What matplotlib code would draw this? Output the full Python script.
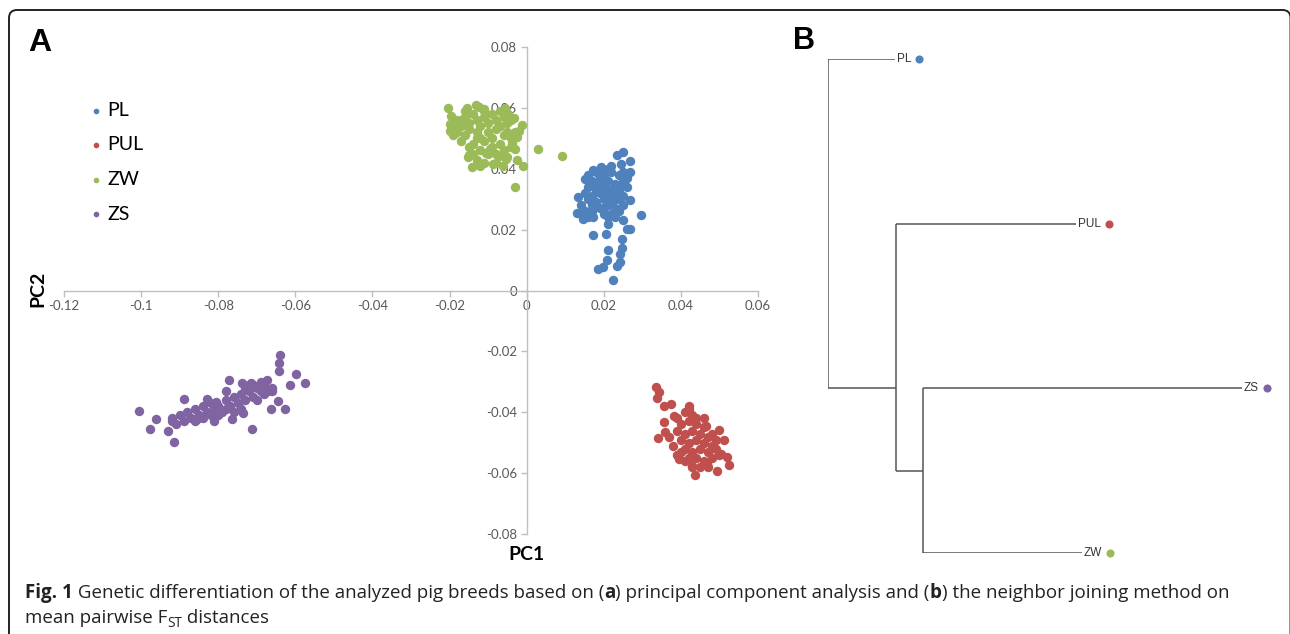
import numpy as np
import matplotlib
matplotlib.use('Agg')
import matplotlib.pyplot as plt
from matplotlib.patches import FancyBboxPatch
from matplotlib.transforms import IdentityTransform

# PCA scores (PC1, PC2)
pl_pc1 = [0.0251, 0.0234, 0.0245, 0.0269, 0.0269, 0.0193, 0.0212, 0.0171, 0.0152, 0.0133,
          0.0130, 0.0147, 0.0173, 0.0269, 0.0297, 0.0251, 0.0212, 0.0260, 0.0269, 0.0171,
          0.0206, 0.0247, 0.0247, 0.0210, 0.0243, 0.0208, 0.0243, 0.0234, 0.0199, 0.0186,
          0.0225,
          0.016, 0.018, 0.020, 0.022, 0.024, 0.017, 0.019, 0.021, 0.023, 0.025,
          0.016, 0.018, 0.020, 0.022, 0.024, 0.026, 0.015, 0.017, 0.019, 0.021,
          0.023, 0.025, 0.016, 0.018, 0.020, 0.022, 0.024, 0.017, 0.019, 0.021,
          0.023, 0.025, 0.015, 0.017, 0.020, 0.022, 0.024, 0.014, 0.016, 0.021,
          0.023, 0.019, 0.021, 0.023, 0.018, 0.020, 0.024, 0.026, 0.014, 0.022,
          0.019, 0.025]
pl_pc2 = [0.0455, 0.0444, 0.0417, 0.0425, 0.0389, 0.0406, 0.0400, 0.0395, 0.0367, 0.0307,
          0.0254, 0.0236, 0.0241, 0.0296, 0.0247, 0.0230, 0.0219, 0.0203, 0.0203, 0.0183,
          0.0186, 0.0170, 0.0140, 0.0132, 0.0121, 0.0099, 0.0093, 0.0082, 0.0077, 0.0071,
          0.0033,
          0.038, 0.039, 0.038, 0.039, 0.038, 0.036, 0.035, 0.036, 0.035, 0.036,
          0.034, 0.033, 0.034, 0.033, 0.034, 0.034, 0.032, 0.031, 0.032, 0.031,
          0.032, 0.031, 0.030, 0.029, 0.030, 0.029, 0.030, 0.028, 0.027, 0.028,
          0.027, 0.028, 0.026, 0.026, 0.025, 0.025, 0.026, 0.025, 0.024, 0.024,
          0.024, 0.037, 0.033, 0.030, 0.035, 0.027, 0.033, 0.037, 0.028, 0.041,
          0.040, 0.039]

pul_pc1 = [0.0335, 0.0342, 0.0338, 0.0355, 0.0375, 0.0420, 0.0355, 0.0360, 0.0341, 0.0500,
           0.0511, 0.0520, 0.0524, 0.0494, 0.0436, 0.0381, 0.0464, 0.0394, 0.0429, 0.0468,
           0.0503,
           0.039, 0.041, 0.043, 0.040, 0.042, 0.044, 0.046, 0.039, 0.041, 0.043,
           0.045, 0.047, 0.040, 0.042, 0.044, 0.046, 0.048, 0.041, 0.043, 0.045,
           0.047, 0.049, 0.042, 0.044, 0.046, 0.048, 0.038, 0.040, 0.045, 0.043,
           0.047, 0.050, 0.044, 0.042, 0.037, 0.046, 0.048, 0.049, 0.041, 0.039]
pul_pc2 = [-0.0318, -0.0335, -0.0354, -0.0378, -0.0373, -0.0378, -0.0431, -0.0466, -0.0483, -0.0457,
           -0.0490, -0.0548, -0.0573, -0.0592, -0.0606, -0.0411, -0.0444, -0.0554, -0.0576, -0.0570,
           -0.0537,
           -0.042, -0.040, -0.041, -0.044, -0.043, -0.044, -0.045, -0.046, -0.047, -0.046,
           -0.047, -0.048, -0.049, -0.050, -0.049, -0.050, -0.051, -0.052, -0.053, -0.052,
           -0.053, -0.052, -0.055, -0.055, -0.056, -0.055, -0.051, -0.053, -0.058, -0.058,
           -0.058, -0.054, -0.042, -0.039, -0.048, -0.042, -0.047, -0.049, -0.056, -0.054]

zw_pc1 = [-0.0205, -0.0195, -0.0199, -0.0198, -0.0191, -0.0165, -0.0156, -0.0132, -0.0123, -0.0111,
          -0.0056, -0.0048, -0.0033, -0.0013, -0.0019, -0.0026, -0.0039, -0.0030, -0.0054, -0.0071,
          -0.0095, -0.0106, -0.0149, -0.0153, -0.0141, -0.0120, -0.0087, -0.0062, -0.0024, -0.0010,
          0.0030, 0.0091, -0.0029,
          -0.018, -0.017, -0.016, -0.015, -0.014, -0.013, -0.012, -0.011, -0.010, -0.009,
          -0.008, -0.007, -0.006, -0.005, -0.018, -0.016, -0.015, -0.013, -0.012, -0.010,
          -0.009, -0.008, -0.006, -0.005, -0.004, -0.017, -0.014, -0.013, -0.011, -0.009,
          -0.007, -0.006, -0.004, -0.012, -0.010, -0.008, -0.014, -0.011, -0.007, -0.016,
          -0.003, -0.004, -0.019, -0.013, -0.011, -0.008, -0.005, -0.015]
zw_pc2 = [0.0598, 0.0573, 0.0548, 0.0523, 0.0510, 0.0565, 0.0598, 0.0611, 0.0603, 0.0595,
          0.0598, 0.0581, 0.0567, 0.0543, 0.0523, 0.0504, 0.0486, 0.0464, 0.0433, 0.0442,
          0.0466, 0.0453, 0.0446, 0.0438, 0.0406, 0.0408, 0.0414, 0.0409, 0.0428, 0.0409,
          0.0464, 0.0441, 0.0340,
          0.056, 0.054, 0.057, 0.055, 0.058, 0.056, 0.054, 0.057, 0.055, 0.058,
          0.056, 0.054, 0.057, 0.055, 0.052, 0.051, 0.053, 0.052, 0.050, 0.052,
          0.050, 0.053, 0.051, 0.052, 0.050, 0.049, 0.048, 0.050, 0.049, 0.047,
          0.048, 0.046, 0.047, 0.046, 0.045, 0.045, 0.045, 0.059, 0.059, 0.059,
          0.052, 0.056, 0.054, 0.043, 0.042, 0.042, 0.044, 0.047]

zs_pc1 = [-0.0640, -0.0643, -0.0643, -0.0598, -0.0576, -0.0615, -0.0673, -0.0660, -0.0646, -0.0628,
          -0.0663, -0.0712, -0.0773, -0.0738, -0.0715, -0.0693, -0.0737, -0.0764, -0.0780, -0.1005,
          -0.0962, -0.0978, -0.0929, -0.0914, -0.0888, -0.0828, -0.0806, -0.0810, -0.0854, -0.0919,
          -0.090, -0.089, -0.088, -0.087, -0.086, -0.085, -0.084, -0.083, -0.082, -0.082,
          -0.081, -0.080, -0.079, -0.078, -0.077, -0.076, -0.076, -0.075, -0.074, -0.073,
          -0.072, -0.072, -0.071, -0.070, -0.069, -0.068, -0.068, -0.067, -0.070, -0.066,
          -0.091, -0.092, -0.086, -0.084, -0.080, -0.078, -0.074, -0.073, -0.071, -0.069]
zs_pc2 = [-0.0211, -0.0239, -0.0263, -0.0274, -0.0305, -0.0309, -0.0294, -0.0329, -0.0362, -0.0389,
          -0.0389, -0.0455, -0.0294, -0.0305, -0.0305, -0.0313, -0.0404, -0.0422, -0.0329, -0.0395,
          -0.0422, -0.0455, -0.0461, -0.0499, -0.0356, -0.0356, -0.0367, -0.0428, -0.0422, -0.0428,
          -0.041, -0.043, -0.040, -0.042, -0.039, -0.041, -0.038, -0.040, -0.037, -0.041,
          -0.039, -0.038, -0.040, -0.036, -0.038, -0.035, -0.040, -0.037, -0.034, -0.036,
          -0.033, -0.031, -0.035, -0.032, -0.030, -0.031, -0.034, -0.033, -0.036, -0.032,
          -0.044, -0.042, -0.043, -0.042, -0.041, -0.039, -0.039, -0.032, -0.031, -0.033]

breeds = ['PL', 'PUL', 'ZW', 'ZS']
colors = {'PL': '#4F81BD', 'PUL': '#C0504D', 'ZW': '#9BBB59', 'ZS': '#8064A2'}
pc_data = {'PL': (pl_pc1, pl_pc2), 'PUL': (pul_pc1, pul_pc2),
           'ZW': (zw_pc1, zw_pc2), 'ZS': (zs_pc1, zs_pc2)}

xticks = [-0.12, -0.1, -0.08, -0.06, -0.04, -0.02, 0, 0.02, 0.04, 0.06]
yticks = [-0.08, -0.06, -0.04, -0.02, 0, 0.02, 0.04, 0.06, 0.08]

# neighbour joining tree: child -> (parent, branch length)
tip_order = ['PL', 'PUL', 'ZS', 'ZW']
tree = {'PL': ('root', 0.067), 'n2': ('root', 0.068), 'PUL': ('n2', 0.180),
        'n3': ('n2', 0.027), 'ZS': ('n3', 0.319), 'ZW': ('n3', 0.159)}

W, H = 1290, 634
fig = plt.figure(figsize=(W / 100, H / 100), dpi=100)

def fx(px):
    return px / W

def fy(py):
    return 1 - py / H

# outer rounded frame (runs off the right and bottom edges)
frame = FancyBboxPatch((9, -30), 1281.5, 634 - 10 + 30,
                       boxstyle='round,pad=0,rounding_size=8',
                       transform=IdentityTransform(), fill=False,
                       edgecolor='#222222', linewidth=1.4)
fig.patches.append(frame)

# ---- panel A: PCA ----
ax = fig.add_axes([fx(64), fy(534), fx(758) - fx(64), fy(47) - fy(534)])
for b in breeds:
    x, y = pc_data[b]
    ax.scatter(x, y, s=46, color=colors[b], linewidths=0, label=b, zorder=3)

ax.set_xlim(-0.12, 0.06)
ax.set_ylim(-0.08, 0.08)
ax.spines['left'].set_position(('data', 0))
ax.spines['bottom'].set_position(('data', 0))
ax.spines['top'].set_visible(False)
ax.spines['right'].set_visible(False)
for s in ['left', 'bottom']:
    ax.spines[s].set_color('#BFBFBF')
    ax.spines[s].set_linewidth(1.0)
ax.set_xticks(xticks)
ax.set_yticks(yticks)
fmt = lambda v: '0' if abs(v) < 1e-9 else f'{round(v, 2):g}'
ax.set_xticklabels([fmt(v) for v in xticks])
ax.set_yticklabels([fmt(v) for v in yticks])
ax.tick_params(direction='out', length=4, width=1, color='#BFBFBF',
               labelcolor='#595959', labelsize=9.5, pad=3)
for lab in ax.get_xticklabels() + ax.get_yticklabels():
    lab.set_family('Lato')
ax.set_facecolor('none')

leg = ax.legend(loc='upper left', bbox_to_anchor=(fx(91), fy(102)),
                bbox_transform=fig.transFigure, frameon=False,
                handlelength=0.5, handletextpad=0.35, labelspacing=0.9,
                borderpad=0, borderaxespad=0, markerscale=0.6,
                prop={'family': 'Lato', 'size': 14})

fig.text(fx(527), fy(555), 'PC1', ha='center', va='center',
         family='Lato', weight='bold', fontsize=14)
fig.text(fx(38), fy(289), 'PC2', ha='center', va='center', rotation=90,
         family='Lato', weight='bold', fontsize=14)

fig.text(fx(28), fy(51), 'A', family='Liberation Sans', weight='bold',
         fontsize=23, va='baseline')
fig.text(fx(793), fy(49), 'B', family='Liberation Sans', weight='bold',
         fontsize=22, va='baseline')

# ---- panel B: tree ----
axb = fig.add_axes([fx(828), fy(553), fx(1242) - fx(828), fy(59) - fy(553)])
axb.set_xlim(0, 0.414)
axb.set_ylim(len(tip_order) - 1, 0)
axb.axis('off')

xpos = {'root': 0.0}
def node_x(n):
    if n not in xpos:
        p, bl = tree[n]
        xpos[n] = node_x(p) + bl
    return xpos[n]

def tips_under(n):
    kids = [c for c, (p, _) in tree.items() if p == n]
    if not kids:
        return [tip_order.index(n)]
    out = []
    for k in kids:
        out += tips_under(k)
    return out

nodes = ['root'] + list(tree.keys())
ypos = {n: np.mean(tips_under(n)) for n in nodes}
line_kw = dict(color='#555555', linewidth=1.1, solid_capstyle='butt')
for n in nodes:
    kids = [c for c, (p, _) in tree.items() if p == n]
    if not kids:
        continue
    ky = [ypos[k] for k in kids]
    axb.plot([node_x(n), node_x(n)], [min(ky), max(ky)], **line_kw)
    for k in kids:
        axb.plot([node_x(n), node_x(k)], [ypos[k], ypos[k]], **line_kw)

renderer = fig.canvas.get_renderer()
for t in tip_order:
    txt = axb.annotate(t, (node_x(t), ypos[t]), xytext=(1.5, 0),
                       textcoords='offset points', ha='left', va='center',
                       family='Liberation Sans', fontsize=8.5, color='#333333')
    bb = txt.get_window_extent(renderer)
    dx, dy = axb.transData.inverted().transform((bb.x1 + 8, (bb.y0 + bb.y1) / 2))
    axb.scatter([dx], [ypos[t]], s=34, color=colors[t], linewidths=0,
                clip_on=False, zorder=3)

# ---- caption ----
def write_pieces(pieces, x0, y0, size):
    x = x0
    for s, w, dy, sz in pieces:
        t = fig.text(fx(x), fy(y0 + dy), s, family='Open Sans', weight=w,
                     fontsize=size * sz, va='baseline', color='#222222')
        x += t.get_window_extent(renderer).width

cap = 13.5
write_pieces([('Fig. 1', 'bold', 0, 1),
              (' Genetic differentiation of the analyzed pig breeds based on (', 'normal', 0, 1),
              ('a', 'bold', 0, 1),
              (') principal component analysis and (', 'normal', 0, 1),
              ('b', 'bold', 0, 1),
              (') the neighbor joining method on', 'normal', 0, 1)], 25, 598, cap)
write_pieces([('mean pairwise F', 'normal', 0, 1),
              ('ST', 'normal', 4, 0.72),
              (' distances', 'normal', 0, 1)], 25, 623, cap)

fig.savefig('out.png', dpi=100)
